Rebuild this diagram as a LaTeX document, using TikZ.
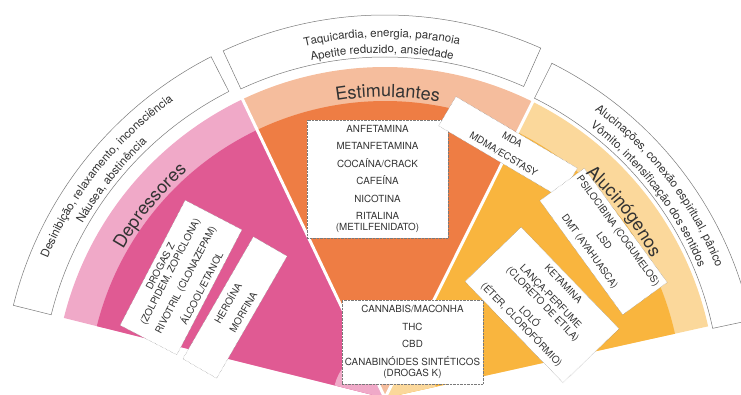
\documentclass[tikz,border=0pt]{standalone}
\usepackage{fontspec}
\setmainfont{TeX Gyre Heros}
\usetikzlibrary{decorations.text}

\definecolor{pinkdark}{HTML}{E05A93}
\definecolor{pinklight}{HTML}{F0A9C8}
\definecolor{orangedark}{HTML}{EE7D44}
\definecolor{orangelight}{HTML}{F5BD9D}
\definecolor{yellowdark}{HTML}{F9B53E}
\definecolor{yellowlight}{HTML}{FBD89B}
\definecolor{inktext}{HTML}{333333}
\definecolor{rimline}{HTML}{7A7A7A}

\newcommand{\effectfont}{\color{inktext}\fontsize{11.5}{13}\selectfont}
\newcommand{\groupfont}{\color{inktext}\fontsize{18}{20}\selectfont}

\tikzset{
	listbox/.style={draw=rimline, densely dotted, fill=white, text=inktext,
		align=center, minimum width=141pt, inner sep=2pt,
		font=\fontsize{9.8}{11}\selectfont},
	effectbox/.style={draw=rimline, line width=0.5pt, fill=white},
	curvedtext/.style={decorate,
		decoration={text along path, text align=center, text={#1}}},
}

\begin{document}
\begin{tikzpicture}[x=1pt, y=1pt]
	\useasboundingbox (0,0) rectangle (741,395);
	\clip (0,0) rectangle (741,395);

	\begin{scope}[shift={(385,-3)}]
		\foreach \a/\b/\dark/\light in {166/115.5/pinkdark/pinklight,
			115.5/63.5/orangedark/orangelight, 63.5/12.5/yellowdark/yellowlight}
		{
			\fill[\light] (0,0) -- (\a:331pt) arc[start angle=\a, end angle=\b, radius=331pt] -- cycle;
			\fill[\dark] (0,0) -- (\a:297pt) arc[start angle=\a, end angle=\b, radius=297pt] -- cycle;
			\fill[\light] (0,0) -- (\a:52pt) arc[start angle=\a, end angle=\b, radius=52pt] -- cycle;
		}

		\foreach \a in {115.5,63.5}
			\draw[white, line width=3pt] (0,0) -- (\a:334pt);

		% efeitos
		\draw[effectbox]
			(166:344pt) arc[start angle=166, end angle=117, radius=344pt]
			-- (117:383pt) arc[start angle=117, end angle=166, radius=383pt] -- cycle;
		\draw[effectbox]
			(115:341pt) arc[start angle=115, end angle=66, radius=341pt]
			-- (66:383pt) arc[start angle=66, end angle=115, radius=383pt] -- cycle;
		\draw[effectbox]
			(63.5:335pt) arc[start angle=63.5, end angle=12, radius=335pt]
			-- (12:374pt) arc[start angle=12, end angle=63.5, radius=374pt] -- cycle;

		\path[curvedtext={|\effectfont|Desinibição, relaxamento, inconsciência}]
			(166:365pt) arc[start angle=166, end angle=117, radius=365pt];
		\path[curvedtext={|\effectfont|Náusea, abstinência}]
			(166:349pt) arc[start angle=166, end angle=117, radius=349pt];
		\path[curvedtext={|\effectfont|Taquicardia, energia, paranoia}]
			(115:361pt) arc[start angle=115, end angle=66, radius=361pt];
		\path[curvedtext={|\effectfont|Apetite reduzido, ansiedade}]
			(115:345pt) arc[start angle=115, end angle=66, radius=345pt];
		\path[curvedtext={|\effectfont|Alucinações, conexão espiritual, pânico}]
			(63.5:356pt) arc[start angle=63.5, end angle=12, radius=356pt];
		\path[curvedtext={|\effectfont|Vômito, intensificação dos sentidos}]
			(63.5:340pt) arc[start angle=63.5, end angle=12, radius=340pt];
	\end{scope}

	\node[listbox, minimum height=118pt] (stim) at (377.5,216)
		{ANFETAMINA\\[6.5pt]METANFETAMINA\\[6.5pt]COCAÍNA/CRACK\\[6.5pt]CAFEÍNA\\[6.5pt]NICOTINA\\[6.5pt]RITALINA\\(METILFENIDATO)};
	\node[listbox, minimum height=84pt] (canna) at (412.5,53)
		{CANNABIS/MACONHA\\[6.5pt]THC\\[6.5pt]CBD\\[6.5pt]CANABINÓIDES SINTÉTICOS\\(DROGAS K)};
	\node[listbox, minimum height=34pt, rotate=-30.5] (mda) at (508,248)
		{MDA\\[6pt]MDMA/ECSTASY};
	\node[listbox, minimum height=55pt, rotate=-54] (psilo) at (603.5,153.5)
		{PSILOCIBINA (COGUMELOS)\\[6.5pt]LSD\\[6.5pt]DMT (AYAHUASCA)};
	\node[listbox, minimum height=78pt, rotate=-46] (keta) at (542,90)
		{KETAMINA\\[6.5pt]LANÇA-PERFUME\\(CLORETO DE ETILA)\\[6.5pt]LOLÓ\\(ÉTER, CLOROFÓRMIO)};
	\node[listbox, minimum height=64pt, rotate=62.5] (drogasz) at (181,117.5)
		{DROGAS Z\\(ZOLPIDEM, ZOPICLONA)\\[6.5pt]RIVOTRIL (CLONAZEPAM)\\[6.5pt]ÁLCOOL/ETANOL};
	\node[listbox, minimum height=39pt, rotate=60] (heroina) at (235,87.5)
		{HEROÍNA\\[6.5pt]MORFINA};

	\begin{scope}[shift={(385,-3)}]
		\path[curvedtext={|\groupfont|Depressores}]
			(166:301pt) arc[start angle=166, end angle=115.5, radius=301pt];
		\path[curvedtext={|\groupfont|Estimulantes}]
			(115.5:301pt) arc[start angle=115.5, end angle=63.5, radius=301pt];
		\path[curvedtext={|\groupfont|Alucinógenos}]
			(63.5:301pt) arc[start angle=63.5, end angle=12.5, radius=301pt];
	\end{scope}
\end{tikzpicture}
\end{document}
